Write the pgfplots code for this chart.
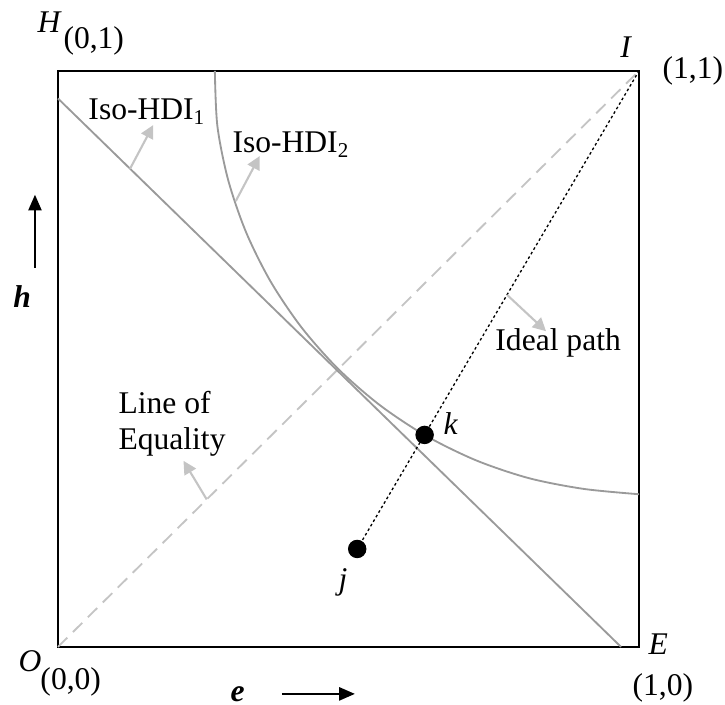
\documentclass[border=0pt]{standalone}
\usepackage{pgfplots}
\pgfplotsset{compat=1.18}
\usepackage{fontspec}
\setmainfont{Liberation Serif}
\usetikzlibrary{arrows.meta}
\definecolor{curvegray}{HTML}{9A9A9A}
\definecolor{lightg}{HTML}{C4C4C4}
\begin{document}
\begin{tikzpicture}[font=\fontsize{12}{14}\selectfont]
\begin{axis}[
  scale only axis, width=220.8pt, height=218.9pt,
  xmin=0, xmax=1, ymin=0, ymax=1,
  xtick=\empty, ytick=\empty,
  clip=false,
  axis line style={line width=0.8pt, black},
]
% line of equality
\addplot[lightg, dash pattern=on 5pt off 3pt, line width=0.7pt] coordinates {(0,0) (1,1)};
% Iso-HDI1 line
\addplot[curvegray, line width=0.7pt] coordinates {(0,0.952) (0.969,0)};
% Iso-HDI2 curve
\addplot[curvegray, line width=0.7pt, smooth] coordinates {
(0.270,1.000) (0.2743,0.9045) (0.2929,0.8105) (0.3237,0.7199) (0.3661,0.6340)
(0.4193,0.5544) (0.4824,0.4824) (0.5544,0.4193) (0.6340,0.3661) (0.7199,0.3237)
(0.8105,0.2929) (0.9045,0.2743) (1.000,0.265)};
% ideal path
\addplot[black, line width=0.5pt, dash pattern=on 1pt off 1pt] coordinates {(0.515,0.170) (1,1)};
% points j, k
\addplot[only marks, mark=*, mark size=3.3pt, black] coordinates {(0.515,0.170) (0.631,0.368)};
% gray arrows
\draw[lightg, line width=0.8pt, -{Triangle[length=5pt,width=5pt]}] (axis cs:0.124,0.830) -- (axis cs:0.164,0.906);
\draw[lightg, line width=0.8pt, -{Triangle[length=5pt,width=5pt]}] (axis cs:0.306,0.774) -- (axis cs:0.347,0.852);
\draw[lightg, line width=0.8pt, -{Triangle[length=5pt,width=5pt]}] (axis cs:0.773,0.611) -- (axis cs:0.840,0.548);
\draw[lightg, line width=0.8pt, -{Triangle[length=5pt,width=5pt]}] (axis cs:0.256,0.256) -- (axis cs:0.216,0.323);
% black arrows
\draw[black, line width=0.8pt, -{Triangle[length=6pt,width=5pt]}] (axis cs:0.3855,-0.0816) -- (axis cs:0.511,-0.0816);
\draw[black, line width=0.8pt, -{Triangle[length=6pt,width=5pt]}] (axis cs:-0.0396,0.658) -- (axis cs:-0.0396,0.785);
% labels
\node[anchor=base west, inner sep=0] at (axis cs:-0.0361,1.066) {\textit{H}};
\node[anchor=base west, inner sep=0] at (axis cs:0.0086,1.038) {(0,1)};
\node[anchor=base west, inner sep=0] at (axis cs:0.967,1.0226) {\textit{I}};
\node[anchor=base west, inner sep=0] at (axis cs:1.0396,0.986) {(1,1)};
\node[anchor=base west, inner sep=0] at (axis cs:-0.0688,-0.0434) {\textit{O}};
\node[anchor=base west, inner sep=0] at (axis cs:-0.031,-0.0747) {(0,0)};
\node[anchor=base west, inner sep=0] at (axis cs:1.0155,-0.0139) {\textit{E}};
\node[anchor=base west, inner sep=0] at (axis cs:0.988,-0.085) {(1,0)};
\node[anchor=base west, inner sep=0] at (axis cs:0.296,-0.094) {\textbf{\textit{e}}};
\node[anchor=base west, inner sep=0] at (axis cs:-0.0775,0.5885) {\textbf{\textit{h}}};
\node[anchor=base west, inner sep=0] at (axis cs:0.0516,0.915) {Iso-HDI\textsubscript{1}};
\node[anchor=base west, inner sep=0] at (axis cs:0.2995,0.8576) {Iso-HDI\textsubscript{2}};
\node[anchor=base west, inner sep=0] at (axis cs:0.752,0.514) {Ideal path};
\node[anchor=base west, inner sep=0] at (axis cs:0.1033,0.406) {Line of};
\node[anchor=base west, inner sep=0] at (axis cs:0.1033,0.342) {Equality};
\node[anchor=base west, inner sep=0] at (axis cs:0.6627,0.368) {\textit{k}};
\node[anchor=base west, inner sep=0] at (axis cs:0.482,0.099) {\textit{j}};
\coordinate (bl) at (axis cs:-0.0998,-0.1007);
\coordinate (tr) at (axis cs:1.148,1.123);
\end{axis}
\pgfresetboundingbox
\path[use as bounding box] (bl) rectangle (tr);
\end{tikzpicture}
\end{document}
